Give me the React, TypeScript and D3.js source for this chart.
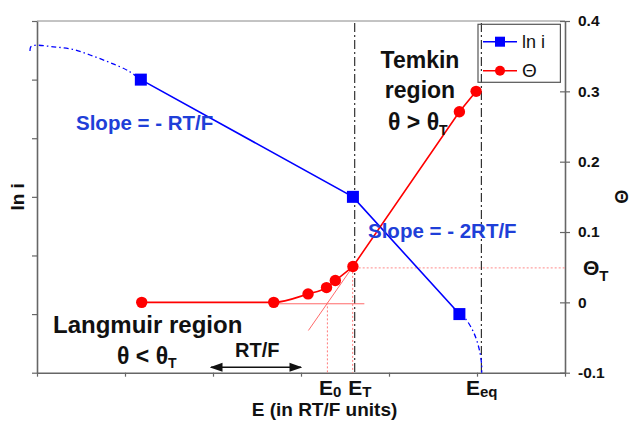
import { useEffect, useRef } from 'react';
import * as d3 from 'd3';

// E axis in RT/F units, left axis ln i (arbitrary units), right axis theta
const LN_I_E = [1.18, 3.59, 4.8];
const LN_I = [5, 3, 1];
const LN_I_LEFT_E = [-0.08, -0.07, -0.023, 0.185, 0.394, 0.602, 0.83, 1.037, 1.18];
const LN_I_LEFT = [5.49, 5.56, 5.585, 5.56, 5.52, 5.42, 5.29, 5.15, 5.0];
const LN_I_RIGHT_E = [4.8, 4.864, 4.958, 5.023, 5.053, 5.053];
const LN_I_RIGHT = [1.0, 0.928, 0.7, 0.416, 0.13, 0];
const THETA_E = [1.19, 2.69, 3.08, 3.29, 3.39, 3.59, 4.8, 4.99];
const THETA = [0, 0, 0.012, 0.021, 0.031, 0.051, 0.271, 0.3];
const TANGENT_E = [3.084, 3.59];
const TANGENT = [-0.04, 0.051];
const BASE_E = [2.72, 3.72];
const BASE = [-0.002, -0.002];
const E0 = 3.3;
const ET = 3.61;
const EEQ = 5.05;
const THETA_T = 0.049;
const RIGHT_TICKS = [-0.1, 0, 0.1, 0.2, 0.3, 0.4];

const FONT = '"Liberation Sans", Arial, sans-serif';
const BLUE = '#0000ff';
const BLUE_TEXT = '#1f3fd8';
const RED = '#ff0000';

export default function App() {
  const svgRef = useRef<SVGSVGElement>(null);

  useEffect(() => {
    const svg = d3.select(svgRef.current);
    svg.selectAll('*').remove();
    svg.attr('font-family', FONT);

    const x = d3.scaleLinear().domain([0, 6]).range([37, 565]);
    const yL = d3.scaleLinear().domain([0, 6]).range([372.7, 21]);
    const yR = d3.scaleLinear().domain([-0.1, 0.4]).range([372.7, 21]);

    // frame top line
    svg.append('line').attr('x1', x(0)).attr('x2', x(6)).attr('y1', yL(6)).attr('y2', yL(6))
      .attr('stroke', '#888').attr('stroke-width', 1);

    // axes
    const gl = svg.append('g').attr('transform', `translate(${x(0)},0)`)
      .call(d3.axisLeft(yL).ticks(6).tickSize(5).tickSizeOuter(0).tickFormat(() => ''));
    const gb = svg.append('g').attr('transform', `translate(0,${yL(0)})`)
      .call(d3.axisBottom(x).ticks(6).tickSize(4).tickSizeOuter(0).tickFormat(() => ''));
    const gr = svg.append('g').attr('transform', `translate(${x(6)},0)`)
      .call(d3.axisRight(yR).tickValues(RIGHT_TICKS).tickSize(5).tickSizeOuter(0)
        .tickFormat((v) => (+v === 0 ? '0' : (+v).toFixed(1))));
    [gl, gb, gr].forEach((g) => {
      g.select('.domain').attr('stroke', '#666').attr('stroke-width', 1.6);
      g.selectAll('.tick line').attr('stroke', '#666').attr('stroke-width', 1.2);
    });
    gr.selectAll('.tick line').attr('x1', -5).attr('x2', 5);
    gr.selectAll('.tick text').attr('x', 13).attr('font-size', 15.5).attr('font-weight', 700)
      .attr('font-family', FONT).attr('fill', '#111');

    // vertical dash-dot markers
    [ET, EEQ].forEach((e) => {
      svg.append('line').attr('x1', x(e)).attr('x2', x(e)).attr('y1', yL(6) + 2).attr('y2', yL(0) + 2)
        .attr('stroke', '#333').attr('stroke-width', 1.2).attr('stroke-dasharray', '9 3 2 3');
    });

    // red thin construction lines
    const lineR = d3.line<[number, number]>().x((d) => x(d[0])).y((d) => yR(d[1]));
    svg.append('path').attr('d', lineR(BASE_E.map((e, i) => [e, BASE[i]])))
      .attr('stroke', '#ff6a6a').attr('stroke-width', 1).attr('fill', 'none');
    svg.append('path').attr('d', lineR(TANGENT_E.map((e, i) => [e, TANGENT[i]])))
      .attr('stroke', '#ff6a6a').attr('stroke-width', 1).attr('fill', 'none');
    svg.append('line').attr('x1', x(E0)).attr('x2', x(E0)).attr('y1', yR(0)).attr('y2', yR(-0.1))
      .attr('stroke', '#ff7a7a').attr('stroke-width', 1).attr('stroke-dasharray', '2 2');
    svg.append('line').attr('x1', x(ET) - 2).attr('x2', x(ET) - 2).attr('y1', yR(THETA_T)).attr('y2', yR(-0.1))
      .attr('stroke', '#ff7a7a').attr('stroke-width', 1).attr('stroke-dasharray', '2 2');
    svg.append('line').attr('x1', x(ET)).attr('x2', x(6)).attr('y1', yR(THETA_T)).attr('y2', yR(THETA_T))
      .attr('stroke', '#ff8a8a').attr('stroke-width', 1).attr('stroke-dasharray', '2 2');

    // ln i extensions
    const lineL = d3.line<[number, number]>().x((d) => x(d[0])).y((d) => yL(d[1])).curve(d3.curveCatmullRom);
    [[LN_I_LEFT_E, LN_I_LEFT], [LN_I_RIGHT_E, LN_I_RIGHT]].forEach(([es, vs]) => {
      svg.append('path').attr('d', lineL(es.map((e, i) => [e, vs[i]])))
        .attr('stroke', BLUE).attr('stroke-width', 1.3).attr('fill', 'none').attr('stroke-dasharray', '5 3 1.5 3');
    });

    // ln i series
    svg.append('path')
      .attr('d', d3.line<number>().x((d) => x(d)).y((_, i) => yL(LN_I[i]))(LN_I_E))
      .attr('stroke', BLUE).attr('stroke-width', 1.6).attr('fill', 'none');

    // theta series: smooth Langmuir part up to E_T, straight Temkin part after
    const thetaPts: [number, number][] = THETA_E.map((e, i) => [e, THETA[i]]);
    const iT = THETA_E.indexOf(3.59);
    svg.append('path')
      .attr('d', d3.line<[number, number]>().x((d) => x(d[0])).y((d) => yR(d[1])).curve(d3.curveMonotoneX)(thetaPts.slice(0, iT + 1)))
      .attr('stroke', RED).attr('stroke-width', 1.6).attr('fill', 'none');
    svg.append('path')
      .attr('d', lineR(thetaPts.slice(iT)))
      .attr('stroke', RED).attr('stroke-width', 1.6).attr('fill', 'none');

    svg.selectAll('.sq').data(LN_I_E).join('rect')
      .attr('x', (d) => x(d) - 6).attr('y', (_, i) => yL(LN_I[i]) - 6)
      .attr('width', 12).attr('height', 12).attr('fill', BLUE);
    svg.selectAll('.dot').data(THETA_E).join('circle')
      .attr('cx', (d) => x(d)).attr('cy', (_, i) => yR(THETA[i])).attr('r', 5.7).attr('fill', RED);

    // legend
    const lg = svg.append('g');
    lg.append('rect').attr('x', 478).attr('y', 24.3).attr('width', 82.4).attr('height', 58)
      .attr('fill', 'none').attr('stroke', '#555').attr('stroke-width', 1.2);
    const legendItems = [
      { label: 'ln i', color: BLUE, shape: 'sq', y: 41.7, size: 18 },
      { label: 'Θ', color: RED, shape: 'dot', y: 70.7, size: 19 },
    ];
    legendItems.forEach((it) => {
      lg.append('line').attr('x1', 483).attr('x2', 517).attr('y1', it.y).attr('y2', it.y)
        .attr('stroke', it.color).attr('stroke-width', 1.4);
      if (it.shape === 'sq') {
        lg.append('rect').attr('x', 500 - 5).attr('y', it.y - 5).attr('width', 10).attr('height', 10).attr('fill', it.color);
      } else {
        lg.append('circle').attr('cx', 500).attr('cy', it.y).attr('r', 5).attr('fill', it.color);
      }
      lg.append('text').attr('x', 522).attr('y', it.y + 6).attr('font-size', it.size).attr('fill', '#111').text(it.label);
    });

    // annotations
    const txt = (tx: number, ty: number, size: number, color: string, anchor = 'start') =>
      svg.append('text').attr('x', tx).attr('y', ty).attr('font-size', size).attr('font-weight', 700)
        .attr('fill', color).attr('text-anchor', anchor);

    txt(76, 130, 20.5, BLUE_TEXT).text('Slope = - RT/F');
    txt(368, 238, 20.5, BLUE_TEXT).text('Slope = - 2RT/F');
    txt(420, 68, 23, '#111', 'middle').text('Temkin');
    txt(420, 98, 23, '#111', 'middle').text('region');
    const t1 = txt(388, 130, 23, '#111');
    t1.append('tspan').text('θ > θ');
    t1.append('tspan').attr('font-size', 14).attr('dy', 5).text('T');
    txt(53, 332.7, 24, '#111').text('Langmuir region');
    const t2 = txt(117, 364, 23, '#111');
    t2.append('tspan').text('θ < θ');
    t2.append('tspan').attr('font-size', 14).attr('dy', 4).text('T');
    txt(235, 356.7, 20, '#111').text('RT/F');

    // RT/F double arrow, one unit wide
    const defs = svg.append('defs');
    defs.append('marker').attr('id', 'arr').attr('viewBox', '0 0 10 10').attr('refX', 9).attr('refY', 5)
      .attr('markerWidth', 8).attr('markerHeight', 8).attr('orient', 'auto-start-reverse')
      .append('path').attr('d', 'M0,1.5 L10,5 L0,8.5 Z').attr('fill', '#111');
    svg.append('line').attr('x1', x(2) - 2).attr('x2', x(3)).attr('y1', 367.3).attr('y2', 367.3)
      .attr('stroke', '#111').attr('stroke-width', 1.6)
      .attr('marker-start', 'url(#arr)').attr('marker-end', 'url(#arr)');

    // theta_T label
    const tT = txt(583, 274.5, 21, '#111');
    tT.append('tspan').text('Θ');
    tT.append('tspan').attr('font-size', 15).attr('dy', 6).text('T');

    // E labels
    const eLabel = (px: number, sub: string) => {
      const t = txt(px, 395, 21, '#111');
      t.append('tspan').text('E');
      t.append('tspan').attr('font-size', 15).attr('dy', 2).text(sub);
    };
    eLabel(x(E0) - 8.5, '0');
    eLabel(x(ET) - 6.5, 'T');
    eLabel(x(EEQ) - 15.5, 'eq');
    txt(251.7, 416, 19, '#111').text('E (in RT/F units)');

    // axis titles
    svg.append('text').attr('transform', `translate(24,${yL(3)}) rotate(-90)`).attr('text-anchor', 'middle')
      .attr('font-size', 19).attr('font-weight', 700).attr('fill', '#111').text('ln i');
    svg.append('text').attr('transform', `translate(615,${yL(3)}) rotate(90)`).attr('text-anchor', 'middle')
      .attr('font-size', 18).attr('font-weight', 700).attr('fill', '#111').text('Θ');
  }, []);

  return (
    <div style={{ position: 'absolute', left: 0, top: 0, background: '#fff' }}>
      <svg ref={svgRef} width={633} height={422} style={{ display: 'block' }} />
    </div>
  );
}
